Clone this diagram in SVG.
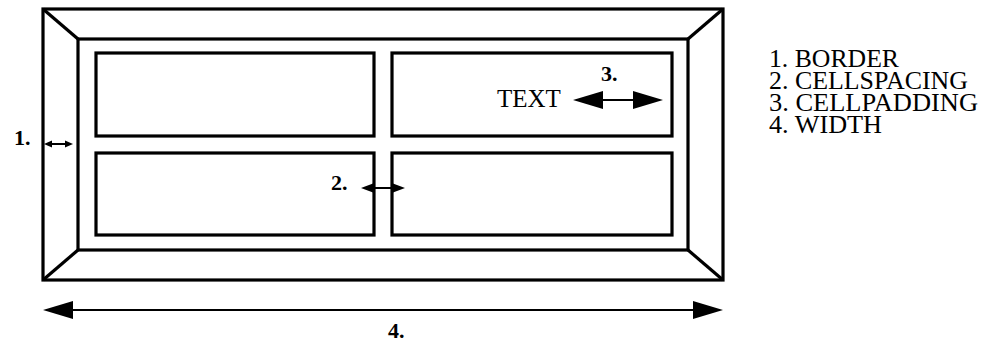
<svg xmlns="http://www.w3.org/2000/svg" width="987" height="342" viewBox="0 0 987 342">
<style>
.box{fill:none;stroke:#000;stroke-width:3.2}
.ln{stroke:#000;stroke-width:2;fill:none}
.hd{fill:#000;stroke:none}
.lbl{font-family:"Liberation Serif",serif;font-weight:bold;font-size:22px;fill:#000}
.txt{font-family:"Liberation Serif",serif;font-size:25px;fill:#000}
</style>
<rect width="987" height="342" fill="#fff"/>
<g id="table">
<rect class="box" x="43" y="9" width="680" height="271"/>
<rect class="box" x="78" y="39" width="610" height="211"/>
<line class="box" x1="43" y1="9" x2="78" y2="39"/>
<line class="box" x1="723" y1="9" x2="688" y2="39"/>
<line class="box" x1="43" y1="280" x2="78" y2="250"/>
<line class="box" x1="723" y1="280" x2="688" y2="250"/>
</g>
<g id="cell1"><rect class="box" x="96" y="53" width="278" height="83"/></g>
<g id="cell2"><rect class="box" x="392" y="53" width="280" height="83"/>
<text class="txt" x="497" y="107" font-size="26">TEXT</text></g>
<g id="cell3"><rect class="box" x="96" y="153" width="278" height="82"/></g>
<g id="cell4"><rect class="box" x="392" y="153" width="280" height="82"/></g>
<g id="connectors">
<line class="ln" x1="48" y1="144" x2="68" y2="144" stroke-width="1.5"/>
<polygon class="hd" points="44,144 52,140.5 52,147.5"/>
<polygon class="hd" points="73,144 65,140.5 65,147.5"/>
<line class="ln" x1="366" y1="188" x2="400" y2="188"/>
<polygon class="hd" points="361,188 373,183.5 373,192.5"/>
<polygon class="hd" points="405,188 393,183.5 393,192.5"/>
<line class="ln" x1="590" y1="100" x2="645" y2="100"/>
<polygon class="hd" points="573,100 603,91 603,109"/>
<polygon class="hd" points="663,100 633,91 633,109"/>
<line class="ln" x1="60" y1="310" x2="705" y2="310"/>
<polygon class="hd" points="43,310 73,301 73,319"/>
<polygon class="hd" points="723,310 693,301 693,319"/>
</g>
<g id="labels">
<text class="lbl" x="14" y="145">1.</text>
<text class="lbl" x="331" y="190">2.</text>
<text class="lbl" x="601" y="81">3.</text>
<text class="lbl" x="388" y="338">4.</text>
</g>
<g id="legend">
<text class="txt" x="769" y="67" textLength="130" lengthAdjust="spacingAndGlyphs">1. BORDER</text>
<text class="txt" x="769" y="89" textLength="199" lengthAdjust="spacingAndGlyphs">2. CELLSPACING</text>
<text class="txt" x="769" y="111" textLength="209" lengthAdjust="spacingAndGlyphs">3. CELLPADDING</text>
<text class="txt" x="769" y="133" textLength="113" lengthAdjust="spacingAndGlyphs">4. WIDTH</text>
</g>
</svg>
